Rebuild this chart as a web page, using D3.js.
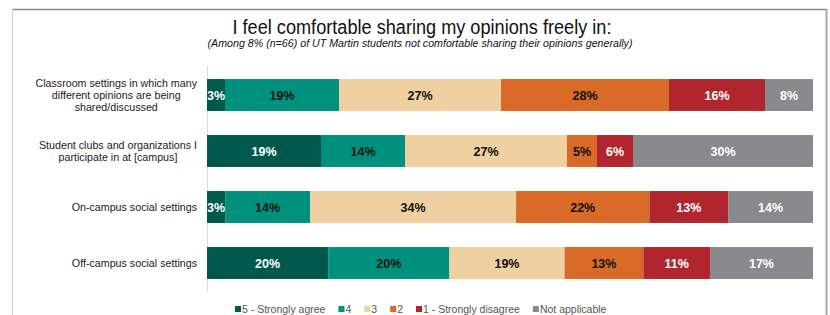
<!DOCTYPE html>
<html>
<head>
<meta charset="utf-8">
<script src="https://cdn.jsdelivr.net/npm/d3@7"></script>
<style>
  body { margin: 0; background: #fff; }
  svg { display: block; font-family: "Liberation Sans", Arial, sans-serif; }
</style>
</head>
<body>
<div id="chart"></div>
<script>
// data
const categories = [
  "Classroom settings in which many|different opinions are being|shared/discussed",
  "Student clubs and organizations I|participate in at [campus]",
  "On-campus social settings",
  "Off-campus social settings"
];
const responses = ["5 - Strongly agree", "4", "3", "2", "1 - Strongly disagree", "Not applicable"];
const colors = ["#00594c", "#00917e", "#efd0a0", "#d96a27", "#b1262e", "#898a8d"];
const labelColors = ["#fff", "#111", "#111", "#111", "#fff", "#fff"];

const agree5 = [3, 19, 3, 20];
const agree4 = [19, 14, 14, 20];
const neutral3 = [27, 27, 34, 19];
const disagree2 = [28, 5, 22, 13];
const disagree1 = [16, 6, 13, 11];
const notApplicable = [8, 30, 14, 17];

const series = [agree5, agree4, neutral3, disagree2, disagree1, notApplicable];

const W = 830, H = 315;
const svg = d3.select("#chart").append("svg")
    .attr("width", W)
    .attr("height", H);

// frame
svg.append("line").attr("x1", 12).attr("x2", 827).attr("y1", 9.5).attr("y2", 9.5)
    .attr("stroke", "#8a8a8a").attr("stroke-width", 1.5);
svg.append("line").attr("x1", 12.5).attr("x2", 12.5).attr("y1", 9).attr("y2", H)
    .attr("stroke", "#cfcfcf").attr("stroke-width", 1);
svg.append("line").attr("x1", 826.5).attr("x2", 826.5).attr("y1", 9).attr("y2", H)
    .attr("stroke", "#a8a8a8").attr("stroke-width", 2);

// titles
svg.append("text")
    .attr("x", 422).attr("y", 34)
    .attr("text-anchor", "middle")
    .attr("font-size", 19.5)
    .attr("textLength", 379)
    .attr("lengthAdjust", "spacingAndGlyphs")
    .attr("fill", "#111")
    .text("I feel comfortable sharing my opinions freely in:");
svg.append("text")
    .attr("x", 420).attr("y", 47)
    .attr("text-anchor", "middle")
    .attr("font-size", 10.5)
    .attr("font-style", "italic")
    .attr("textLength", 425)
    .attr("lengthAdjust", "spacingAndGlyphs")
    .attr("fill", "#111")
    .text("(Among 8% (n=66) of UT Martin students not comfortable sharing their opinions generally)");

// scales
const x0 = 207, x1 = 813;
const y = d3.scaleBand()
    .domain(d3.range(categories.length))
    .range([67, 291])
    .paddingInner(0.43)
    .paddingOuter(0.215);

// axis line
svg.append("line").attr("x1", x0 + 0.5).attr("x2", x0 + 0.5).attr("y1", 66).attr("y2", 292)
    .attr("stroke", "#dcdcdc");

// stacked bars (normalised per row)
categories.forEach((c, i) => {
    const vals = series.map(s => s[i]);
    const total = d3.sum(vals);
    const x = d3.scaleLinear().domain([0, total]).range([x0, x1]);
    let acc = 0;
    const g = svg.append("g");
    vals.forEach((v, k) => {
        const start = acc;
        acc += v;
        g.append("rect")
            .attr("x", x(start))
            .attr("y", y(i))
            .attr("width", x(acc) - x(start))
            .attr("height", y.bandwidth())
            .attr("fill", colors[k]);
        g.append("text")
            .attr("x", (x(start) + x(acc)) / 2)
            .attr("y", y(i) + y.bandwidth() / 2 + 4.5)
            .attr("text-anchor", "middle")
            .attr("font-size", 12.5)
            .attr("font-weight", "bold")
            .attr("fill", labelColors[k])
            .text(v + "%");
    });

    // category label, lines centred within block that ends at x=197
    const lines = c.split("|");
    const lh = 12;
    const cy = y(i) + y.bandwidth() / 2;
    const lg = svg.append("g");
    const texts = lines.map((l, j) => lg.append("text")
        .attr("y", cy - (lines.length - 1) * lh / 2 + j * lh + 4)
        .attr("font-size", 10.7)
        .attr("fill", "#222")
        .attr("text-anchor", "middle")
        .text(l));
    const widths = texts.map(t => t.node().getComputedTextLength());
    const maxW = d3.max(widths);
    texts.forEach(t => t.attr("x", 197 - maxW / 2));
});

// legend
const legend = svg.append("g").attr("transform", "translate(235, 313)");
let off = 0;
responses.forEach((r, k) => {
    const item = legend.append("g").attr("transform", `translate(${off}, 0)`);
    item.append("rect")
        .attr("x", 0).attr("y", -7)
        .attr("width", 6).attr("height", 6)
        .attr("fill", colors[k]);
    const t = item.append("text")
        .attr("x", 7).attr("y", 0)
        .attr("font-size", 10.5)
        .attr("fill", "#555")
        .text(r);
    off += 7 + t.node().getComputedTextLength() + 13;
});
</script>
</body>
</html>
